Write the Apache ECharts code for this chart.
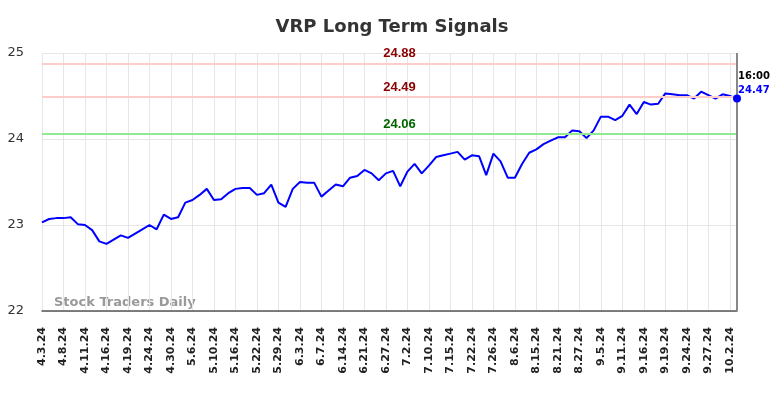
<!DOCTYPE html>
<html>
<head>
<meta charset="utf-8">
<script src="https://cdn.jsdelivr.net/npm/echarts@6/dist/echarts.min.js"></script>
<style>
  html, body { margin: 0; padding: 0; background: #fff; }
  #chart { width: 784px; height: 398px; }
</style>
</head>
<body>
<div id="chart"></div>
<script>
var dates = ['4.3.24','4.4.24','4.5.24','4.8.24','4.9.24','4.10.24','4.11.24','4.12.24','4.15.24','4.16.24',
  '4.17.24','4.18.24','4.19.24','4.22.24','4.23.24','4.24.24','4.25.24','4.26.24','4.30.24','5.1.24',
  '5.2.24','5.6.24','5.7.24','5.8.24','5.10.24','5.13.24','5.14.24','5.16.24','5.17.24','5.20.24',
  '5.22.24','5.23.24','5.24.24','5.29.24','5.30.24','5.31.24','6.3.24','6.4.24','6.5.24','6.7.24',
  '6.10.24','6.12.24','6.14.24','6.17.24','6.18.24','6.21.24','6.24.24','6.25.24','6.27.24','6.28.24',
  '7.1.24','7.2.24','7.3.24','7.8.24','7.10.24','7.11.24','7.12.24','7.15.24','7.17.24','7.18.24',
  '7.22.24','7.23.24','7.24.24','7.26.24','7.30.24','8.1.24','8.6.24','8.8.24','8.13.24','8.15.24',
  '8.16.24','8.19.24','8.21.24','8.22.24','8.23.24','8.27.24','8.29.24','9.3.24','9.5.24','9.6.24',
  '9.10.24','9.11.24','9.12.24','9.13.24','9.16.24','9.17.24','9.18.24','9.19.24','9.20.24','9.23.24',
  '9.24.24','9.25.24','9.26.24','9.27.24','9.30.24','10.1.24','10.2.24','10.3.24'];
var prices = [23.03,23.07,23.08,23.08,23.09,23.01,23.00,22.94,22.81,22.78,
  22.83,22.88,22.85,22.90,22.95,23.00,22.95,23.12,23.07,23.09,
  23.26,23.29,23.35,23.42,23.29,23.30,23.37,23.42,23.43,23.43,
  23.35,23.37,23.47,23.26,23.21,23.42,23.50,23.49,23.49,23.33,
  23.40,23.47,23.45,23.55,23.57,23.64,23.60,23.52,23.60,23.63,
  23.45,23.62,23.71,23.60,23.69,23.79,23.81,23.83,23.85,23.76,
  23.81,23.80,23.58,23.83,23.74,23.55,23.55,23.71,23.84,23.88,
  23.94,23.98,24.02,24.02,24.10,24.09,24.01,24.10,24.26,24.26,
  24.22,24.27,24.40,24.29,24.43,24.40,24.41,24.53,24.52,24.51,
  24.51,24.47,24.55,24.51,24.47,24.52,24.50,24.47];
var resistLevels = [24.88, 24.49];
var supportLevels = [24.06];
var lastTime = '16:00';

var chart = echarts.init(document.getElementById('chart'));
var lastIdx = prices.length - 1;

// horizontal signal lines + vertical line at the last point
var levelLines = [];
function levelLabel(v, color) {
  return { show: true, position: 'middle', formatter: v.toFixed(2), color: color,
    fontWeight: 'bold', fontSize: 13, distance: 3, padding: [0, 0, 0, 20] };
}
resistLevels.forEach(function(v){
  levelLines.push({ yAxis: v, lineStyle: { color: '#ffcccc', width: 2, type: 'solid' },
    label: levelLabel(v, '#8b0000') });
});
supportLevels.forEach(function(v){
  levelLines.push({ yAxis: v, lineStyle: { color: '#90e890', width: 2, type: 'solid' },
    label: levelLabel(v, '#006400') });
});
levelLines.push({ xAxis: dates[lastIdx], lineStyle: { color: '#888', width: 2, type: 'solid' },
  label: { show: false } });

var option = {
  animation: false,
  title: {
    text: 'VRP Long Term Signals',
    left: 'center',
    top: 13,
    textStyle: { fontSize: 18, fontWeight: 'bold', color: '#333', fontFamily: 'DejaVu Sans' }
  },
  graphic: [{
    type: 'text', left: 54, top: 296,
    style: { text: 'Stock Traders Daily', fill: '#999', font: 'bold 13px "DejaVu Sans"' }
  }],
  grid: { left: 42, right: 47, top: 53, bottom: 87 },
  xAxis: {
    type: 'category',
    data: dates,
    boundaryGap: false,
    axisLine: { lineStyle: { color: '#555', width: 1.5 } },
    axisTick: { show: false },
    axisLabel: { rotate: 90, interval: 2, fontSize: 11, fontWeight: 'bold', color: '#222',
      fontFamily: 'DejaVu Sans', margin: 16 },
    splitLine: { show: true, interval: 2, lineStyle: { color: '#e6e6e6', width: 1 } }
  },
  yAxis: {
    type: 'value',
    min: 22, max: 25, interval: 1,
    axisLine: { show: false },
    axisTick: { show: false },
    axisLabel: { fontSize: 13, color: '#333', fontFamily: 'DejaVu Sans', margin: 18 },
    splitLine: { lineStyle: { color: '#e6e6e6', width: 1 } }
  },
  series: [{
    type: 'line',
    data: prices,
    showSymbol: false,
    lineStyle: { color: '#0000ff', width: 2 },
    itemStyle: { color: '#0000ff' },
    markLine: { symbol: 'none', silent: true, data: levelLines },
    markPoint: {
      symbol: 'circle', symbolSize: 8,
      itemStyle: { color: '#0000ff' },
      data: [{ coord: [dates[lastIdx], prices[lastIdx]] }],
      label: {
        show: true, position: 'top', distance: 4, offset: [17, 7],
        formatter: '{t|' + lastTime + '}\n{v|' + prices[lastIdx].toFixed(2) + '}',
        rich: {
          t: { color: '#000', fontWeight: 'bold', fontSize: 10, lineHeight: 14, fontFamily: 'DejaVu Sans', align: 'left' },
          v: { color: '#0000ff', fontWeight: 'bold', fontSize: 10, lineHeight: 14, fontFamily: 'DejaVu Sans', align: 'left' }
        }
      }
    }
  }]
};
chart.setOption(option);
</script>
</body>
</html>
